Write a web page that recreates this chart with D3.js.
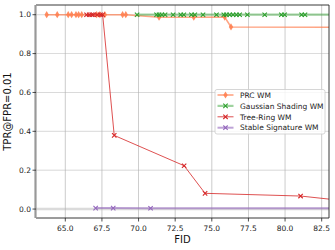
<!DOCTYPE html>
<html><head><meta charset="utf-8">
<script src="https://cdn.jsdelivr.net/npm/d3@7"></script>
<style>body{margin:0;background:#fff}svg{display:block}text{font-family:"DejaVu Sans",sans-serif}</style>
</head><body><svg id="c" width="335" height="250"></svg>
<script>
const xTicks=[65.0,67.5,70.0,72.5,75.0,77.5,80.0,82.5];
const yTicks=[0.0,0.2,0.4,0.6,0.8,1.0];
const prcX=[63.73,64.45,65.2,65.43,65.73,65.91,66.12,67.14,67.36,67.7,68.91,69.13,71.4,73.77,75.88,76.31,85];
const prcY=[1,1,1,1,1,1,1,1,1,1,1,1,0.987,0.987,0.988,0.937,0.935];
const gsX=[69.9,71.23,71.4,71.59,71.81,72.36,72.88,73.09,73.61,73.84,74.4,75.32,75.82,76.0,76.22,76.45,76.68,76.9,77.43,78.61,79.75,79.97,81.13,81.36,85];
const gsY=gsX.map(()=>1.0);
const trX=[66.45,66.63,66.8,66.9,67.18,67.41,67.55,68.34,73.11,74.54,81.06,85];
const trY=[1,1,1,1,1,1,1,0.379,0.223,0.081,0.067,0.035];
const ssX=[67.07,68.27,70.82,85];
const ssY=[0.005,0.005,0.004,0.004];
const series=[
 {name:"PRC WM",x:prcX,y:prcY,color:"#ff7f50",lw:1.6,la:0.7,marker:"d"},
 {name:"Gaussian Shading WM",x:gsX,y:gsY,color:"#2ca02c",lw:2.2,la:0.45,marker:"x"},
 {name:"Tree-Ring WM",x:trX,y:trY,color:"#d62728",lw:0.9,la:0.9,marker:"x"},
 {name:"Stable Signature WM",x:ssX,y:ssY,color:"#9467bd",lw:2.0,la:0.6,marker:"x"}
];
const svg=d3.select("#c");
const L=36,T=5,R=329,B=218;
const x=d3.scaleLinear().domain([63,83]).range([L,R]);
const y=d3.scaleLinear().domain([-0.046,1.05]).range([B,T]);
svg.append("defs").append("clipPath").attr("id","cp").append("rect").attr("x",L).attr("y",T).attr("width",R-L).attr("height",B-T);
svg.append("g").selectAll("line").data(xTicks).join("line")
 .attr("x1",d=>x(d)).attr("x2",d=>x(d)).attr("y1",T).attr("y2",B).attr("stroke","#b0b0b0").attr("stroke-width",0.8).attr("opacity",0.8);
svg.append("g").selectAll("line").data(yTicks).join("line")
 .attr("x1",L).attr("x2",R).attr("y1",d=>y(d)).attr("y2",d=>y(d)).attr("stroke","#b0b0b0").attr("stroke-width",d=>d===0?2.5:0.8).attr("opacity",d=>d===0?0.45:0.6);
const g=svg.append("g").attr("clip-path","url(#cp)");
const line=d3.line();
series.forEach(s=>{
 const pts=s.x.map((v,i)=>[x(v),y(s.y[i])]);
 g.append("path").attr("d",line(pts)).attr("fill","none").attr("stroke",s.color).attr("stroke-width",s.lw).attr("opacity",s.la);
 pts.forEach(p=>drawMarker(g,s,p[0],p[1]));
});
function drawMarker(g,s,px,py){
 if(s.marker==="d"){
  g.append("path").attr("d",`M${px},${py-3.6}L${px+2.2},${py}L${px},${py+3.6}L${px-2.2},${py}Z`).attr("fill",s.color).attr("opacity",0.9);
 } else {
  const r=2.2;
  g.append("path").attr("d",`M${px-r},${py-r}L${px+r},${py+r}M${px-r},${py+r}L${px+r},${py-r}`).attr("stroke",s.color).attr("stroke-width",1.1).attr("fill","none");
 }
}
svg.append("line").attr("x1",L).attr("x2",R).attr("y1",T).attr("y2",T).attr("stroke","#222").attr("stroke-width",0.9);
svg.append("line").attr("x1",R).attr("x2",R).attr("y1",T).attr("y2",B).attr("stroke","#222").attr("stroke-width",0.9);
svg.append("line").attr("x1",L).attr("x2",R).attr("y1",B).attr("y2",B).attr("stroke","#222").attr("stroke-width",0.9);
svg.append("line").attr("x1",L-0.5).attr("x2",L-0.5).attr("y1",T).attr("y2",B).attr("stroke","#999").attr("stroke-width",2.2);
const xa=svg.append("g");
xTicks.forEach(t=>{
 xa.append("line").attr("x1",x(t)).attr("x2",x(t)).attr("y1",B).attr("y2",B+3.5).attr("stroke","#222").attr("stroke-width",0.8);
 xa.append("text").attr("x",x(t)).attr("y",B+12.5).attr("text-anchor","middle").attr("font-size",7.5).attr("fill","#222").text(t.toFixed(1));
});
yTicks.forEach(t=>{
 xa.append("line").attr("x1",L-3.5).attr("x2",L).attr("y1",y(t)).attr("y2",y(t)).attr("stroke","#222").attr("stroke-width",0.8);
 xa.append("text").attr("x",L-5).attr("y",y(t)+2.7).attr("text-anchor","end").attr("font-size",7.5).attr("fill","#222").text(t.toFixed(1));
});
svg.append("text").attr("x",(L+R)/2).attr("y",243).attr("text-anchor","middle").attr("font-size",10).attr("fill","#111").text("FID");
svg.append("text").attr("transform",`translate(11,${(T+B)/2}) rotate(-90)`).attr("text-anchor","middle").attr("font-size",10).attr("fill","#111").text("TPR@FPR=0.01");
const lg=svg.append("g");
lg.append("rect").attr("x",215).attr("y",89.5).attr("width",110).attr("height",44.5).attr("rx",2).attr("fill","#fff").attr("fill-opacity",0.8).attr("stroke","#ccc").attr("stroke-width",0.8);
series.forEach((s,i)=>{
 const yy=95+i*10.9;
 lg.append("line").attr("x1",217.5).attr("x2",233.5).attr("y1",yy).attr("y2",yy).attr("stroke",s.color).attr("stroke-width",s.lw).attr("opacity",s.la);
 drawMarker(lg,s,225.5,yy);
 lg.append("text").attr("x",240).attr("y",yy+2.7).attr("font-size",7.5).attr("fill","#222").text(s.name);
});
</script></body></html>
